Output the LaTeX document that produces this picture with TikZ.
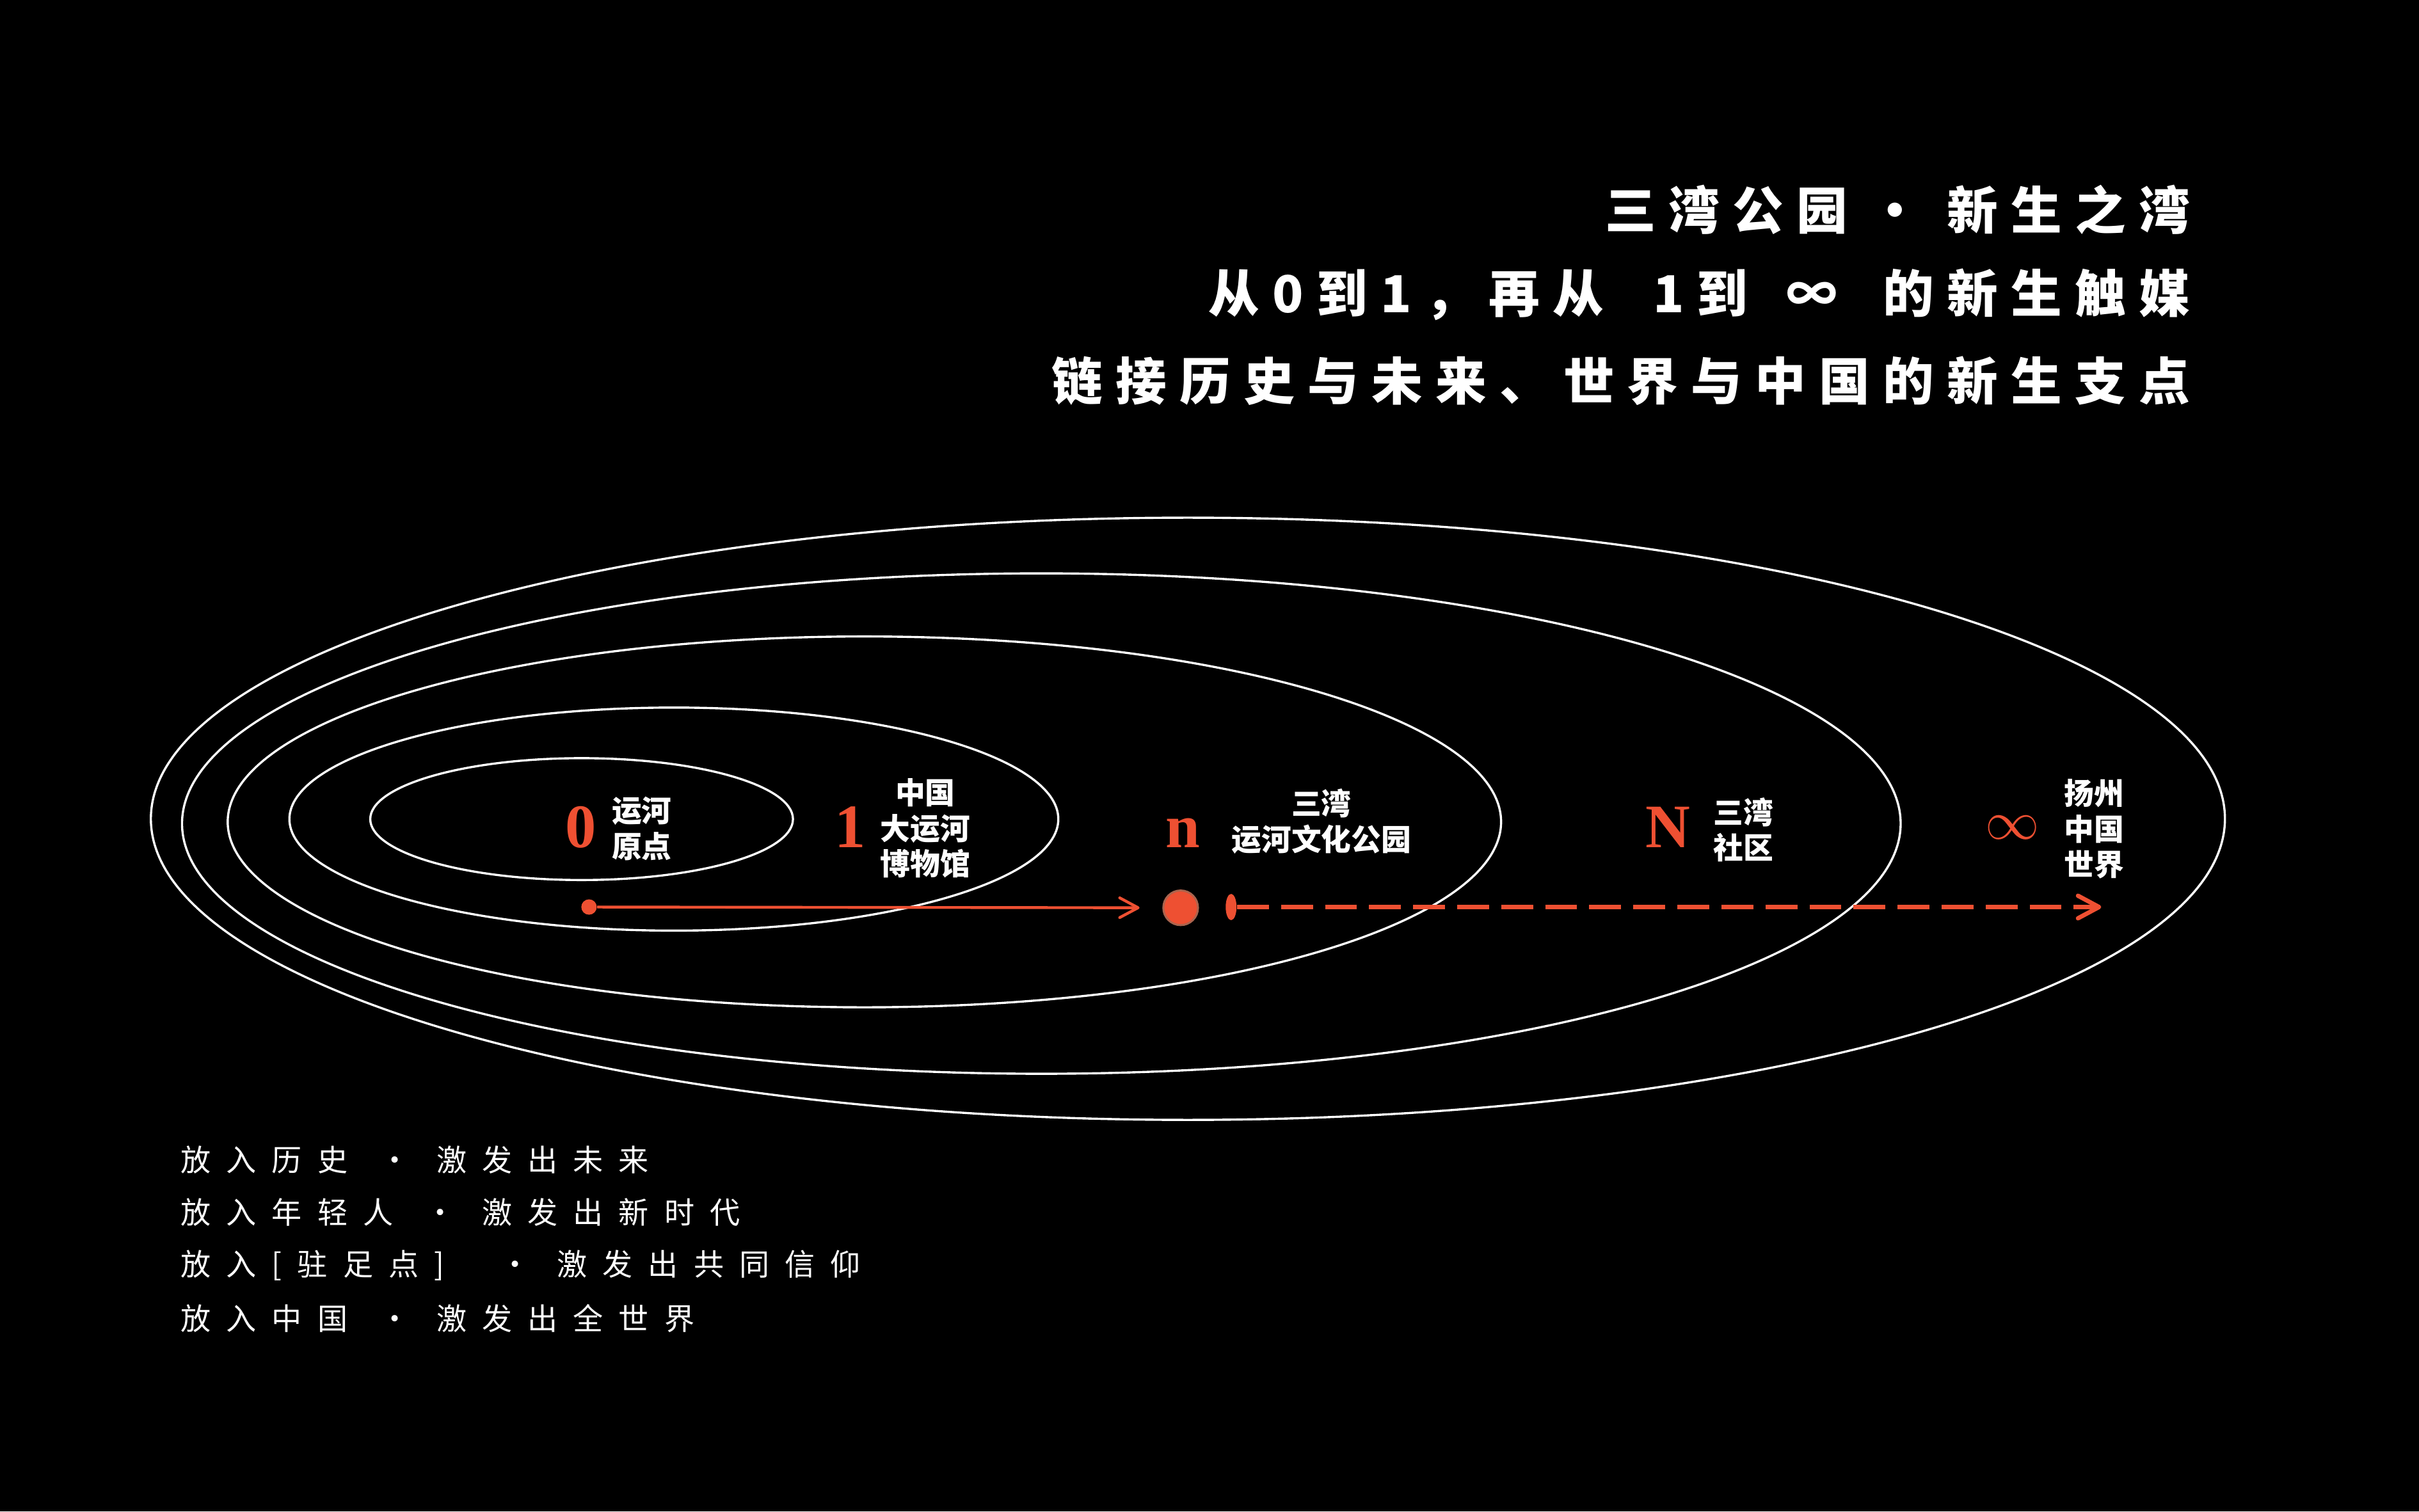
\documentclass[tikz,border=0pt]{standalone}
\usepackage{fontspec}
\usetikzlibrary{arrows.meta,shapes.geometric,positioning}
\newfontfamily\cjk{Noto Sans CJK SC}
\newfontfamily\cjktitle[LetterSpace=25.5]{Noto Sans CJK SC}
\newfontfamily\cjkmotto[LetterSpace=51]{Noto Sans CJK SC}
\newfontfamily\numfont{Liberation Serif}
\definecolor{canalred}{RGB}{238,80,50}
\definecolor{hubrim}{RGB}{170,100,78}
\newcommand\headdot{\hspace{21.6pt}\makebox[0pt]{\cjk\bfseries ·}\hspace{24.2pt}}
\newcommand\mottodot[1][21.7pt]{\hspace{#1}\makebox[0pt]{\cjk ·}\hspace{19.3pt}}
\tikzset{
    orbit/.style={draw=white,line width=1pt},
    head line/.style={text=white,anchor=east,inner sep=0pt,font=\cjktitle\bfseries\fontsize{23.5}{23.5}\selectfont},
    motto line/.style={text=white,anchor=west,inner sep=0pt,font=\cjkmotto\fontsize{13.9}{13.9}\selectfont},
    stage num/.style={text=canalred,inner sep=0pt,anchor=base,font=\numfont\bfseries\fontsize{28.5}{28.5}\selectfont},
    stage name/.style={text=white,inner sep=0pt,align=center,font=\cjk\bfseries\fontsize{13.8}{16.4}\selectfont},
    start dot/.style={circle,fill=canalred,inner sep=0pt,minimum size=7.1pt},
    hub dot/.style={circle,fill=canalred,draw=hubrim,line width=0.9pt,inner sep=0pt,minimum size=16pt},
    tick mark/.style={ellipse,fill=canalred,inner sep=0pt,minimum width=5pt,minimum height=12.1pt},
    path now/.style={draw=canalred,line width=1.3pt,-{Straight Barb[length=8.5pt,width=9.1pt,round]}},
    path next/.style={draw=canalred,line width=2pt,dash pattern=on 14.7pt off 5.6pt,-{Straight Barb[length=9.7pt,width=10.4pt,round]}}
}

\begin{document}
\begin{tikzpicture}[x=0.025cm,y=-0.025cm]
    \fill[black] (0,0) rectangle (1568,979.8);

    \draw[orbit] (377,531) ellipse [x radius=137,y radius=39.5];
    \draw[orbit] (436.8,531) ellipse [x radius=249.2,y radius=72.3];
    \draw[orbit] (560.3,532.8) ellipse [x radius=412.7,y radius=120.2];
    \draw[orbit] (675,533.9) ellipse [x radius=557,y radius=162.2];
    \draw[orbit] (770,530.8) ellipse [x radius=672.2,y radius=195.2];

    \node[head line] (headA) at (1420,135.9) {三湾公园\headdot 新生之湾};
    \node[head line] (headB) at (1420,190.8) {从0到1，再从 \hspace{11.4pt}1到 \hspace{6.4pt}∞ \hspace{9.7pt}的新生触媒};
    \node[head line] (headC) at (1420,246.8) {链接历史与未来、世界与中国的新生支点};

    \node[stage num] (num0) at (376.3,549.3) {0};
    \node[stage name] (name0) at (416,537.2) {运河\\原点};
    \node[stage num] (num1) at (551.3,549.3) {1};
    \node[stage name] (name1) at (599.8,537) {中国\\大运河\\博物馆};
    \node[stage num] (numn) at (766.7,549.3) {n};
    \node[stage name] (namen) at (856.5,532.5) {三湾\\运河文化公园};
    \node[stage num] (numN) at (1081,549.3) {N};
    \node[stage name] (nameN) at (1130,538) {三湾\\社区};
    \node[stage num,anchor=center,font=\fontsize{26}{26}\selectfont] (numinf) at (1304.4,536.5) {$\infty$};
    \node[stage name] (nameinf) at (1357.3,537.5) {扬州\\中国\\世界};

    \node[start dot] (origin) at (381.8,588) {};
    \node[hub dot] (hub) at (765.3,588.5) {};
    \node[tick mark] (tick) at (798,588) {};
    \coordinate (world) at (1362,588);
    \draw[path now,shorten >=10.5pt] (origin) -- (hub);
    \draw[path next] (tick) -- (world);

    \node[motto line] (mottoA) at (117,752) {放入历史\mottodot 激发出未来};
    \node[motto line] (mottoB) at (117,786) {放入年轻人\mottodot 激发出新时代};
    \node[motto line] (mottoC) at (117,820.5) {放入[驻足点]\mottodot[32.7pt]激发出共同信仰};
    \node[motto line] (mottoD) at (117,854.5) {放入中国\mottodot 激发出全世界};
\end{tikzpicture}
\end{document}
